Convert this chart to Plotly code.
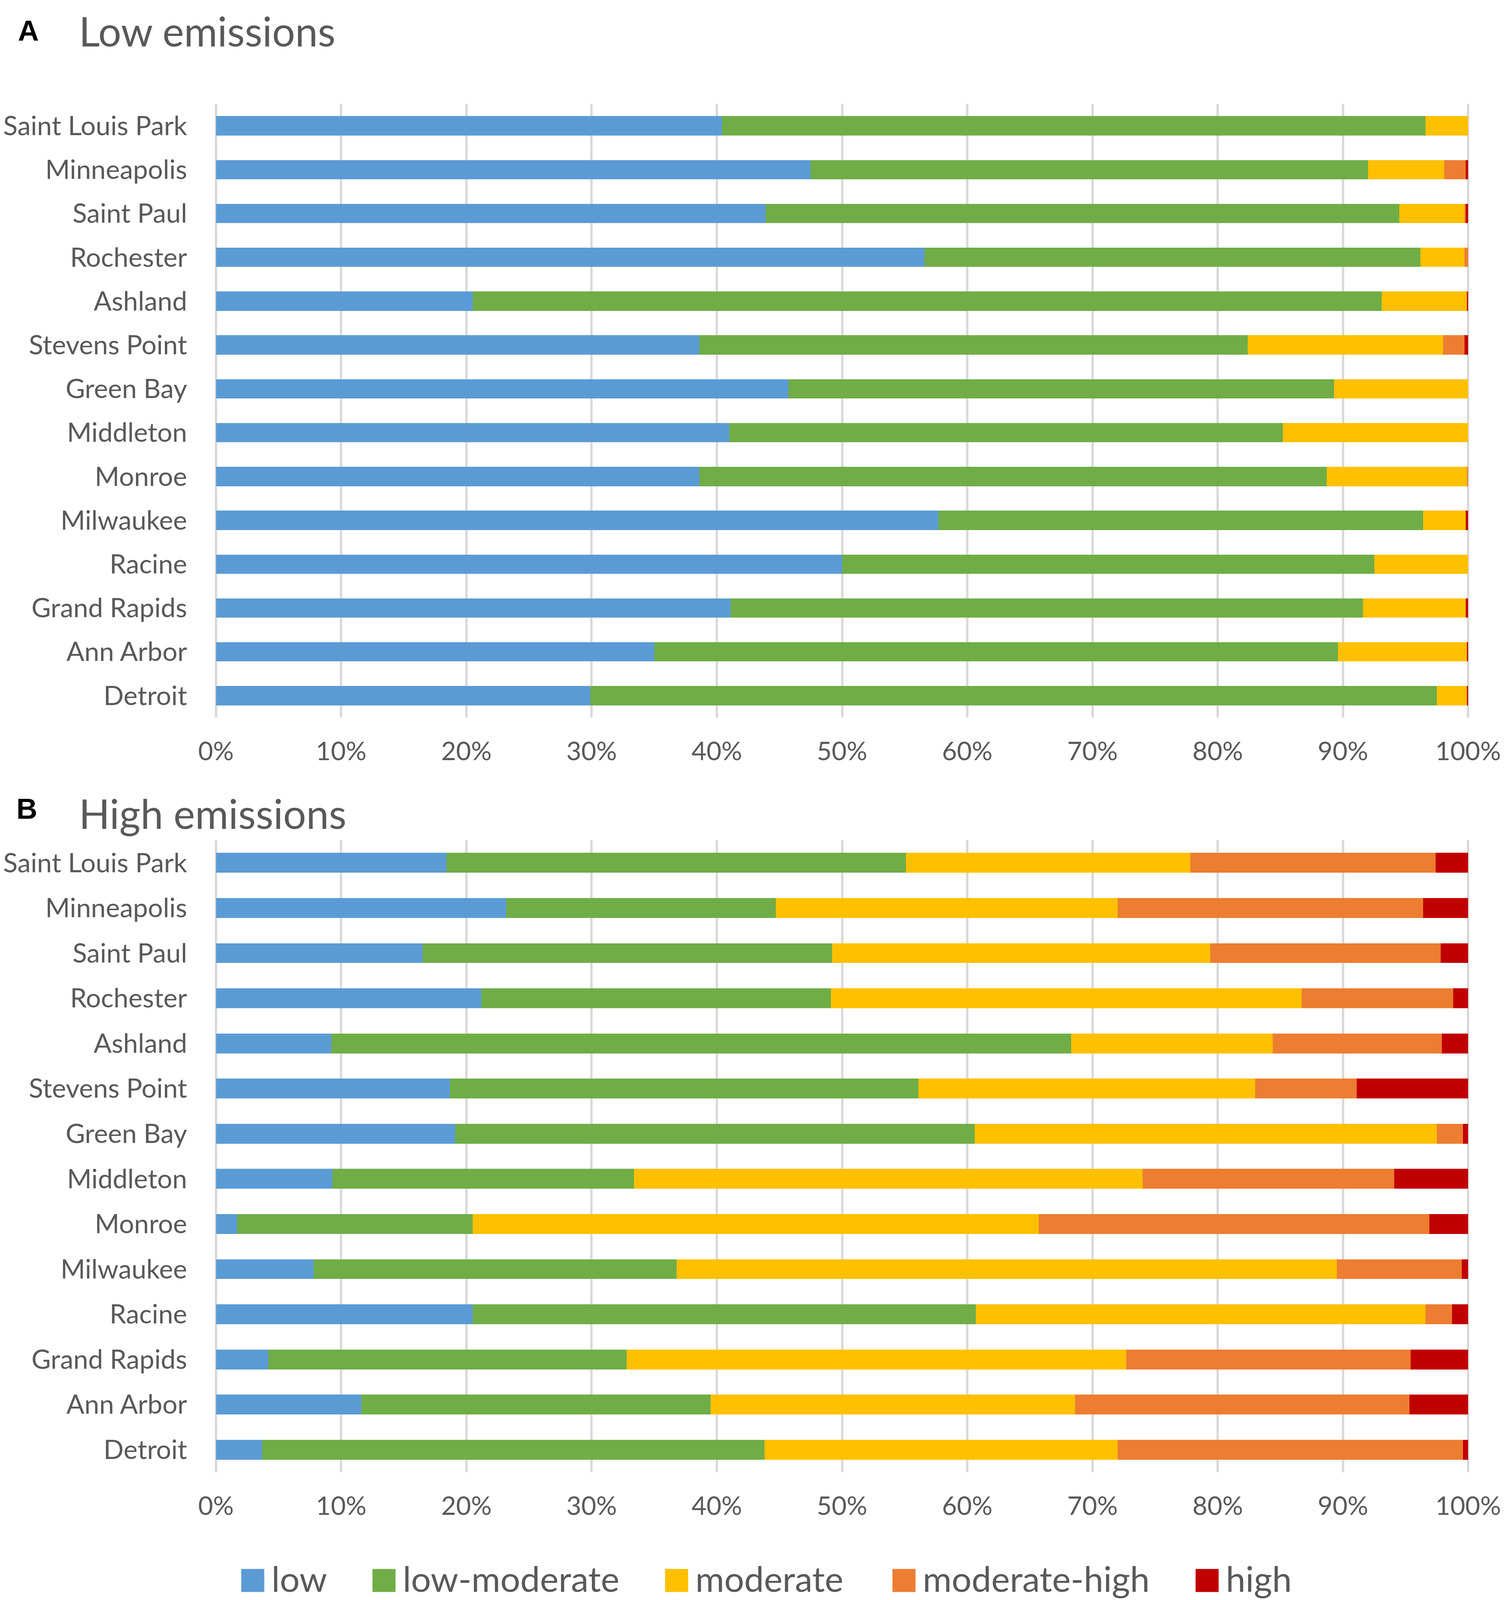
import plotly.graph_objects as go
from plotly.subplots import make_subplots

W, H = 3850, 4108

cities = ["Saint Louis Park", "Minneapolis", "Saint Paul", "Rochester", "Ashland",
          "Stevens Point", "Green Bay", "Middleton", "Monroe", "Milwaukee",
          "Racine", "Grand Rapids", "Ann Arbor", "Detroit"]

levels = ["low", "low-moderate", "moderate", "moderate-high", "high"]
colors = ["#5B9BD5", "#70AD47", "#FFC000", "#ED7D31", "#C00000"]

# A - low emissions (% share per class)
low_a = [40.4, 47.5, 43.9, 56.6, 20.5, 38.6, 45.7, 41.0, 38.6, 57.7, 50.0, 41.1, 35.0, 29.9]
lowmod_a = [56.2, 44.5, 50.6, 39.6, 72.6, 43.8, 43.6, 44.2, 50.1, 38.7, 42.5, 50.5, 54.6, 67.6]
mod_a = [3.4, 6.1, 5.2, 3.5, 6.8, 15.6, 10.7, 14.8, 11.2, 3.4, 7.5, 8.2, 10.3, 2.4]
modhigh_a = [0, 1.7, 0.1, 0.3, 0, 1.7, 0, 0, 0.1, 0, 0, 0, 0, 0]
high_a = [0, 0.2, 0.2, 0, 0.1, 0.3, 0, 0, 0, 0.2, 0, 0.2, 0.1, 0.1]

# B - high emissions
low_b = [18.4, 23.2, 16.5, 21.2, 9.2, 18.7, 19.1, 9.3, 1.7, 7.8, 20.5, 4.2, 11.6, 3.7]
lowmod_b = [36.7, 21.5, 32.7, 27.9, 59.1, 37.4, 41.5, 24.1, 18.8, 29.0, 40.2, 28.6, 27.9, 40.1]
mod_b = [22.7, 27.3, 30.2, 37.6, 16.1, 26.9, 36.9, 40.6, 45.2, 52.7, 35.9, 39.9, 29.1, 28.2]
modhigh_b = [19.6, 24.4, 18.4, 12.1, 13.5, 8.1, 2.1, 20.1, 31.2, 10.0, 2.1, 22.7, 26.7, 27.6]
high_b = [2.6, 3.6, 2.2, 1.2, 2.1, 8.9, 0.4, 5.9, 3.1, 0.5, 1.3, 4.6, 4.7, 0.4]

panel_a = [low_a, lowmod_a, mod_a, modhigh_a, high_a]
panel_b = [low_b, lowmod_b, mod_b, modhigh_b, high_b]

FONT = "Lato, 'Open Sans', sans-serif"
GREY = "#595959"


def px_x(v):
    return v / W


def px_y(v):
    return 1 - v / H


fig = make_subplots(rows=2, cols=1)

for row, series in ((1, panel_a), (2, panel_b)):
    for name, vals, col in zip(levels, series, colors):
        fig.add_trace(go.Bar(y=cities, x=vals, orientation="h", name=name,
                             marker=dict(color=col, line=dict(width=0)),
                             showlegend=False), row=row, col=1)

xdom = [px_x(540), px_x(3755)]
axis_x = dict(range=[-0.15, 100.15], dtick=10, ticksuffix="%", showgrid=True,
              gridcolor="#D9D9D9", gridwidth=6, zeroline=False, showline=False,
              ticks="", ticklabelstandoff=42, domain=xdom, automargin=False,
              tickfont=dict(family=FONT, size=66, color=GREY))
axis_y = dict(type="category", categoryorder="array", categoryarray=cities,
              autorange="reversed", showgrid=False, zeroline=False, showline=False,
              ticks="", ticklabelstandoff=68, automargin=False,
              tickfont=dict(family=FONT, size=68, color=GREY))

fig.update_layout(
    xaxis=dict(axis_x, anchor="y"),
    xaxis2=dict(axis_x, anchor="y2"),
    yaxis=dict(axis_y, domain=[px_y(1829), px_y(258)], anchor="x"),
    yaxis2=dict(axis_y, domain=[px_y(3761), px_y(2143)], anchor="x2"),
)

annotations = [
    dict(text="<b>A</b>", x=px_x(64), y=px_y(70), xanchor="center", yanchor="middle",
         font=dict(family="Liberation Sans, Arial", size=74, color="black")),
    dict(text="Low emissions", x=px_x(192), y=px_y(70), xanchor="left", yanchor="middle",
         font=dict(family=FONT, size=104, color=GREY)),
    dict(text="<b>B</b>", x=px_x(60), y=px_y(2062), xanchor="center", yanchor="middle",
         font=dict(family="Liberation Sans, Arial", size=74, color="black")),
    dict(text="High emissions", x=px_x(192), y=px_y(2073), xanchor="left", yanchor="middle",
         font=dict(family=FONT, size=104, color=GREY)),
]

# legend swatches + labels along the bottom
swatch_left = [609, 945, 1694, 2276, 3052]
for left, name, col in zip(swatch_left, levels, colors):
    annotations.append(dict(text=" ", x=px_x(left), y=px_y(4038), xanchor="left",
                            yanchor="middle", width=58, height=58, bgcolor=col,
                            borderpad=0, font=dict(size=10)))
    annotations.append(dict(text=name, x=px_x(left + 76), y=px_y(4032), xanchor="left",
                            yanchor="middle",
                            font=dict(family=FONT, size=90, color=GREY)))

for a in annotations:
    a.update(xref="paper", yref="paper", showarrow=False)

fig.update_layout(
    width=W, height=H,
    margin=dict(l=0, r=0, t=0, b=0, autoexpand=False),
    barmode="stack", bargap=0.56,
    paper_bgcolor="white", plot_bgcolor="white",
    annotations=annotations,
    showlegend=False,
)

fig.write_html("out.html")
